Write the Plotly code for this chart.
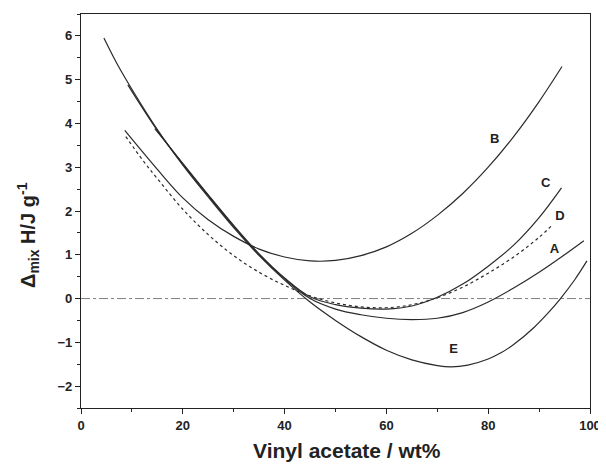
import plotly.graph_objects as go

# Curve data
a_x = [9.2, 15, 20, 25, 30, 35, 40, 45, 50, 55, 60, 65, 70, 75, 80, 85, 90, 95, 98.8]
a_y = [4.88, 3.84, 3.07, 2.35, 1.65, 1.00, 0.45, 0.00, -0.24, -0.37, -0.45, -0.48, -0.45, -0.32, -0.08, 0.24, 0.60, 1.00, 1.32]

b_x = [8.6, 15, 20, 25, 30, 35, 40, 45, 50, 55, 60, 65, 70, 75, 80, 85, 90, 94.5]
b_y = [3.84, 2.95, 2.30, 1.80, 1.42, 1.13, 0.95, 0.86, 0.87, 0.98, 1.18, 1.49, 1.90, 2.40, 3.00, 3.70, 4.50, 5.30]

c_x = [14.5, 20, 25, 30, 35, 40, 45, 50, 55, 60, 65, 70, 75, 80, 85, 90, 94.4]
c_y = [3.88, 3.09, 2.37, 1.67, 1.02, 0.47, 0.04, -0.14, -0.22, -0.24, -0.17, 0.03, 0.33, 0.74, 1.22, 1.85, 2.53]

d_x = [8.8, 12, 15, 20, 25, 30, 35, 40, 45, 50, 55, 60, 65, 70, 75, 80, 85, 90, 92.7]
d_y = [3.70, 3.18, 2.74, 2.04, 1.46, 0.98, 0.60, 0.30, 0.06, -0.10, -0.19, -0.21, -0.14, 0.02, 0.26, 0.58, 0.95, 1.40, 1.69]

e_x = [4.5, 7, 10, 15, 20, 25, 30, 35, 40, 45, 50, 55, 60, 65, 70, 72.7, 76, 80, 82.5, 85, 89, 92, 94.2, 97, 99.4]
e_y = [5.95, 5.38, 4.78, 3.86, 3.05, 2.32, 1.62, 0.98, 0.42, -0.08, -0.50, -0.87, -1.18, -1.40, -1.53, -1.56, -1.52, -1.38, -1.24, -1.05, -0.66, -0.30, 0.0, 0.43, 0.86]

labels = ["A", "B", "C", "D", "E"]
label_x = [93.0, 81.3, 91.3, 94.1, 73.2]
label_y = [1.12, 3.63, 2.62, 1.87, -1.18]

zero_x = [0, 100]
zero_y = [0, 0]

x_ticks = [0, 20, 40, 60, 80, 100]
y_ticks = [-2, -1, 0, 1, 2, 3, 4, 5, 6]

fig = go.Figure()

fig.add_trace(go.Scatter(x=zero_x, y=zero_y, mode="lines",
                         line=dict(color="#808080", width=1, dash="dashdot"),
                         showlegend=False, hoverinfo="skip"))

line_col = "#2a2a2a"
for xs, ys, dash in [(a_x, a_y, "solid"), (b_x, b_y, "solid"), (c_x, c_y, "solid"),
                     (d_x, d_y, "dot"), (e_x, e_y, "solid")]:
    fig.add_trace(go.Scatter(x=xs, y=ys, mode="lines", line_shape="spline",
                             line=dict(color=line_col, width=1.2, dash=dash),
                             showlegend=False))

fig.add_trace(go.Scatter(x=label_x, y=label_y, mode="text", text=labels,
                         textfont=dict(family="Liberation Sans", size=13, color="#222222", weight="bold"),
                         showlegend=False))

tick_font = dict(family="Liberation Sans", size=13, color="#222", weight="bold")
# The page body has an 8px default margin, so the figure is sized/margined to compensate.
fig.update_layout(
    width=598, height=460,
    margin=dict(l=73, r=13, t=5, b=60),
    paper_bgcolor="white", plot_bgcolor="white",
    font=dict(family="Liberation Sans"),
    xaxis=dict(range=[0, 100], tickvals=x_ticks, ticks="outside", ticklen=5, tickwidth=1,
               tickcolor="#222", showline=True, linecolor="#222", linewidth=1.2, mirror=True,
               showgrid=False, zeroline=False, tickfont=tick_font,
               minor=dict(dtick=10, tick0=0, ticks="outside", ticklen=3, tickcolor="#222")),
    yaxis=dict(range=[-2.5, 6.5], tickvals=y_ticks, ticks="outside", ticklen=5, tickwidth=1,
               tickcolor="#222", showline=True, linecolor="#222", linewidth=1.2, mirror=True,
               showgrid=False, zeroline=False, tickfont=tick_font,
               minor=dict(dtick=0.5, tick0=0, ticks="outside", ticklen=3, tickcolor="#222")),
    annotations=[
        dict(text="Vinyl acetate / wt%", xref="paper", yref="paper", x=0.523, y=-0.109,
             xanchor="center", yanchor="middle", showarrow=False,
             font=dict(family="Liberation Sans", size=21, color="#222", weight="bold")),
        dict(text="Δ<sub>mix</sub> H/J g<sup>-1</sup>", xref="paper", yref="paper", x=-0.1035, y=0.44,
             xanchor="center", yanchor="middle", showarrow=False, textangle=-90,
             font=dict(family="Liberation Sans", size=20, color="#222", weight="bold")),
    ],
)

fig.write_html("out.html", config={"displayModeBar": False})
